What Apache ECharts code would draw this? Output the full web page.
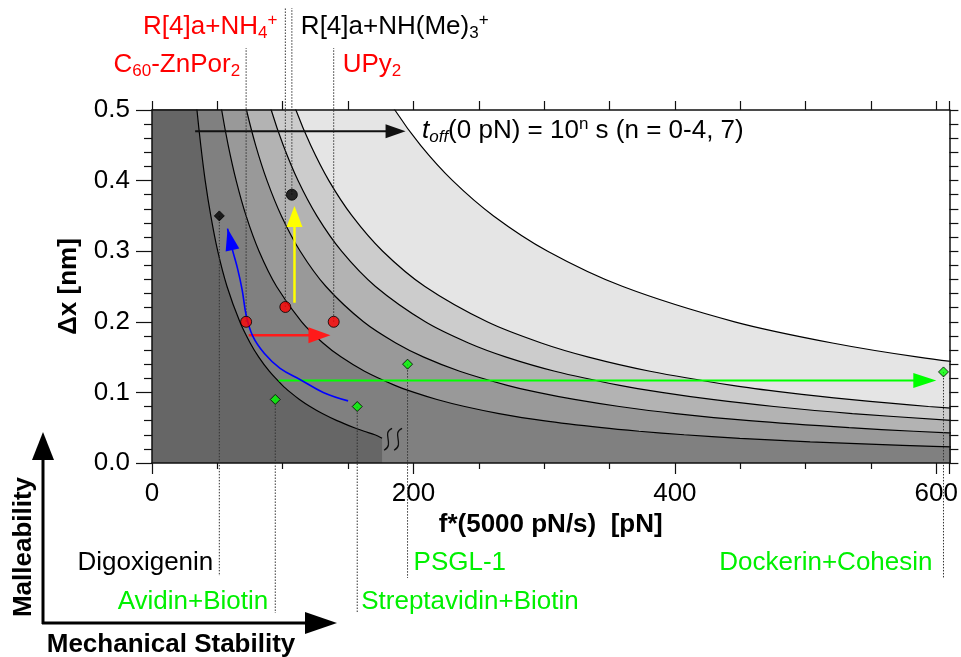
<!DOCTYPE html>
<html>
<head>
<meta charset="utf-8">
<script src="https://cdn.jsdelivr.net/npm/echarts@6/dist/echarts.min.js"></script>
<style>
  html, body { margin: 0; padding: 0; background: #fff; }
  #chart { width: 961px; height: 657px; }
</style>
</head>
<body>
<div id="chart"></div>
<script>
// dx levels (nm) shared by the toff contour curves, force values (pN)
const dxLevels = [0.56, 0.5, 0.45, 0.4, 0.35, 0.3, 0.25, 0.2, 0.17, 0.15, 0.13, 0.11, 0.1, 0.09, 0.08, 0.07, 0.06, 0.05, 0.045, 0.04, 0.035, 0.03, 0.025, 0.022]
const forceN0 = [31.5, 34.4, 37.3, 40.7, 45.0, 50.3, 57.4, 67.2, 75.1, 81.7, 89.7, 99.8, 105.9, 112.8, 120.9, 130.3, 141.5, 154.8, 162.3, 170.5, 176]
const forceN1 = [48.4, 53.3, 58.3, 64.4, 72.0, 81.9, 95.3, 114.5, 130.8, 144.8, 162.6, 185.8, 200.5, 218.0, 239.2, 265.5, 299.2, 344.1, 372.6, 407.1, 449.6, 503.5, 574.1, 628.6]
const forceN2 = [65.3, 72.3, 79.3, 88.0, 99.0, 113.4, 133.1, 161.8, 186.5, 207.9, 235.4, 271.8, 295.1, 323.1, 357.5, 400.6, 456.9, 533.3, 582.9, 643.6]
const forceN3 = [82.2, 91.2, 100.4, 111.7, 126.1, 145.0, 171.0, 209.1, 242.1, 271.0, 308.2, 357.9, 389.8, 428.3, 475.8, 535.8, 614.7]
const forceN4 = [99.1, 110.1, 121.4, 135.3, 153.1, 176.5, 208.8, 256.4, 297.8, 334.0, 381.0, 443.9, 484.4, 533.4, 594.0, 671]
const forceN7 = [166.7, 185.8, 205.5, 230.0, 261.3, 302.7, 360.2, 445.7, 520.5, 586.4, 672]

// binding systems
const binderLabels = [
  'Digoxigenin', 'Avidin+Biotin', 'Streptavidin+Biotin', 'PSGL-1', 'Dockerin+Cohesin',
  '{n|C}{s|60}{n|-ZnPor}{s|2}', '{n|R[4]a+NH}{s|4}{u|+}', '{n|R[4]a+NH(Me)}{s|3}{u|+}', '{n|UPy}{s|2}'
]
const binderForce = [51.5, 94.3, 157, 195.5, 605.5, 72, 102, 107, 139]
const binderDx = [0.35, 0.09, 0.08, 0.14, 0.129, 0.2, 0.221, 0.38, 0.2]

// arrows (data coords), last point is the tip
const arrowBlack = [[33, 0.47], [194, 0.47]]
const arrowYellow = [[109, 0.227], [109, 0.364]]
const arrowRed = [[74, 0.181], [136.5, 0.181]]
const arrowGreen = [[97, 0.117], [600, 0.117]]
const arrowBlue = [[150, 0.088], [131, 0.1], [113.5, 0.118], [98, 0.134], [86, 0.155], [77, 0.18], [72, 0.21], [69, 0.245], [65.5, 0.275], [61.4, 0.303], [57.8, 0.332]]

const FONT = '"Liberation Sans", Arial, sans-serif'
const GREEN = '#00f000'

const binderStyle = [
  { sym: 'diamond', fill: '#000', color: '#000', rowY: 563, lineEnd: 576, align: 'right', gap: 6 },
  { sym: 'diamond', fill: '#00ff00', color: GREEN, rowY: 602, lineEnd: 613, align: 'right', gap: 7 },
  { sym: 'diamond', fill: '#00ff00', color: GREEN, rowY: 602, lineEnd: 613, align: 'left', gap: 4 },
  { sym: 'diamond', fill: '#00ff00', color: GREEN, rowY: 563, lineEnd: 578, align: 'left', gap: 6 },
  { sym: 'diamond', fill: '#00ff00', color: GREEN, rowY: 563, lineEnd: 578, align: 'right', gap: 11 },
  { sym: 'circle', fill: '#ff0000', color: '#ff0000', rowY: 65, lineEnd: 48, align: 'right', gap: 6 },
  { sym: 'circle', fill: '#ff0000', color: '#ff0000', rowY: 27, lineEnd: 8, align: 'right', gap: 8 },
  { sym: 'circle', fill: '#000', color: '#000', rowY: 27, lineEnd: 8, align: 'left', gap: 9 },
  { sym: 'circle', fill: '#ff0000', color: '#ff0000', rowY: 65, lineEnd: 48, align: 'left', gap: 9 }
]

// each curve starts at the upper left corner so the fill covers everything left of it
function curve (forces) {
  return [[0, dxLevels[0]]].concat(forces.map((f, i) => [f, dxLevels[i]]))
}

const levels = [
  { data: forceN7, color: '#e5e5e5' },
  { data: forceN4, color: '#cccccc' },
  { data: forceN3, color: '#b3b3b3' },
  { data: forceN2, color: '#999999' },
  { data: forceN1, color: '#808080' },
  { data: forceN0, color: '#666666' }
]

const axisLine = { show: true, onZero: false, lineStyle: { color: '#111', width: 1.5 } }
const tickStyle = { color: '#111', width: 1.2 }

const chart = echarts.init(document.getElementById('chart'))

const option = {
  animation: false,
  backgroundColor: '#fff',
  grid: { left: 152, right: 11, top: 110, bottom: 194 },
  xAxis: [
    {
      type: 'value', position: 'bottom', min: 0, max: 610, interval: 200, z: 6,
      axisLine: axisLine,
      axisTick: { length: 11, lineStyle: tickStyle },
      minorTick: { show: true, splitNumber: 4, length: 6, lineStyle: tickStyle },
      splitLine: { show: false },
      axisLabel: { fontSize: 26, color: '#000', fontFamily: FONT, margin: 18, showMaxLabel: false },
      name: 'f*(5000 pN/s)  [pN]',
      nameLocation: 'middle',
      nameGap: 44,
      nameTextStyle: { fontSize: 26, fontWeight: 'bold', color: '#000', fontFamily: FONT }
    },
    {
      type: 'value', position: 'top', min: 0, max: 610, interval: 50, z: 6,
      axisLine: axisLine,
      axisTick: { length: 9, lineStyle: tickStyle },
      splitLine: { show: false },
      axisLabel: { show: false }
    }
  ],
  yAxis: [
    {
      type: 'value', min: 0, max: 0.5, interval: 0.1, z: 6,
      axisLine: axisLine,
      axisTick: { length: 16, lineStyle: tickStyle },
      minorTick: { show: true, splitNumber: 5, length: 8, lineStyle: tickStyle },
      splitLine: { show: false },
      axisLabel: { fontSize: 26, color: '#000', fontFamily: FONT, margin: 22, formatter: v => v.toFixed(1) },
      name: 'Δx [nm]',
      nameLocation: 'middle',
      nameGap: 70,
      nameTextStyle: { fontSize: 26, fontWeight: 'bold', color: '#000', fontFamily: FONT }
    },
    {
      type: 'value', position: 'right', min: 0, max: 0.5, interval: 0.02, z: 6,
      axisLine: axisLine,
      axisTick: { length: 9, lineStyle: tickStyle },
      splitLine: { show: false },
      axisLabel: { show: false }
    }
  ],
  series: levels.map(l => ({
    type: 'line',
    data: curve(l.data),
    symbol: 'none',
    smooth: 0.3,
    clip: true,
    silent: true,
    z: 2,
    lineStyle: { color: '#000', width: 1.2 },
    areaStyle: { color: l.color, opacity: 1 }
  })).concat([{
    type: 'scatter',
    z: 15,
    silent: true,
    clip: false,
    data: binderForce.map((f, i) => ({
      value: [f, binderDx[i]],
      symbol: binderStyle[i].sym,
      symbolSize: binderStyle[i].sym === 'circle' ? 11 : 10,
      itemStyle: { color: binderStyle[i].fill, borderColor: '#000', borderWidth: 1 }
    }))
  }])
}

chart.setOption(option)

// annotations placed through the chart's own scales
const P = (x, y) => chart.convertToPixel({ xAxisIndex: 0, yAxisIndex: 0 }, [x, y])

function richFor (color) {
  return {
    n: { fontSize: 26, lineHeight: 30, fontFamily: FONT, fill: color },
    s: { fontSize: 17, lineHeight: 13, verticalAlign: 'bottom', fontFamily: FONT, fill: color },
    u: { fontSize: 17, lineHeight: 14, verticalAlign: 'top', fontFamily: FONT, fill: color }
  }
}

function head (tip, from, len, half, color) {
  const dx = tip[0] - from[0]
  const dy = tip[1] - from[1]
  const d = Math.sqrt(dx * dx + dy * dy)
  const ux = dx / d
  const uy = dy / d
  const bx = tip[0] - ux * len
  const by = tip[1] - uy * len
  return {
    type: 'polygon', z: 12, silent: true,
    shape: { points: [tip, [bx - uy * half, by + ux * half], [bx + uy * half, by - ux * half]] },
    style: { fill: color }
  }
}

function arrow (pts, color, width, len, half, smooth) {
  const px = pts.map(p => P(p[0], p[1]))
  const tip = px[px.length - 1]
  const prev = px[px.length - 2]
  const els = []
  if (smooth) {
    els.push({ type: 'polyline', z: 11, silent: true, shape: { points: px, smooth: 0.4 }, style: { stroke: color, lineWidth: width, fill: null } })
  } else {
    const d = Math.hypot(tip[0] - prev[0], tip[1] - prev[1])
    const end = [tip[0] - (tip[0] - prev[0]) / d * (len - 2), tip[1] - (tip[1] - prev[1]) / d * (len - 2)]
    els.push({ type: 'line', z: 11, silent: true, shape: { x1: px[0][0], y1: px[0][1], x2: end[0], y2: end[1] }, style: { stroke: color, lineWidth: width } })
  }
  els.push(head(tip, prev, len, half, color))
  return els
}

const g = []

binderForce.forEach((f, i) => {
  const p = P(f, binderDx[i])
  const s = binderStyle[i]
  g.push({
    type: 'line', z: 10, silent: true,
    shape: { x1: p[0], y1: p[1], x2: p[0], y2: s.lineEnd },
    style: { stroke: '#333', lineWidth: 1, lineDash: [1.5, 1.5] }
  })
  const label = binderLabels[i].indexOf('{') === 0 ? binderLabels[i] : '{n|' + binderLabels[i] + '}'
  g.push({
    type: 'text', z: 12, silent: true,
    x: s.align === 'right' ? p[0] - s.gap : p[0] + s.gap,
    y: s.rowY,
    style: { text: label, rich: richFor(s.color), align: s.align, verticalAlign: 'middle', fill: s.color, font: '26px ' + FONT }
  })
})

g.push(...arrow(arrowBlack, '#111', 2, 20, 7, false))
g.push(...arrow(arrowYellow, '#ffff00', 2.5, 21, 8, false))
g.push(...arrow(arrowRed, '#ff1a1a', 2.5, 22, 8, false))
g.push(...arrow(arrowGreen, '#00ff00', 2, 23, 7.5, false))
g.push(...arrow(arrowBlue, '#0000ff', 1.6, 22, 7, true))

// break mark after the n = 0 curve
const e = P(forceN0[forceN0.length - 1], dxLevels[forceN0.length - 1])
;[4, 14].forEach(off => {
  const cx = e[0] + off
  const cy = e[1] + 1
  g.push({
    type: 'bezierCurve', z: 11, silent: true,
    shape: { x1: cx + 6, y1: cy - 11, cpx1: cx - 5, cpy1: cy - 6, cpx2: cx + 9, cpy2: cy + 5, x2: cx - 2, y2: cy + 11 },
    style: { stroke: '#111', lineWidth: 1.3, fill: null }
  })
})

// toff legend text
g.push({
  type: 'text', z: 12, silent: true, x: 422, y: 131,
  style: {
    text: '{i|t}{is|off}{n|(0 pN) = 10}{u|n}{n| s (n = 0-4, 7)}',
    verticalAlign: 'middle',
    rich: Object.assign(richFor('#000'), {
      i: { fontSize: 26, lineHeight: 30, fontStyle: 'italic', fontFamily: FONT, fill: '#000' },
      is: { fontSize: 17, lineHeight: 13, verticalAlign: 'bottom', fontStyle: 'italic', fontFamily: FONT, fill: '#000' }
    })
  }
})

// malleability / mechanical stability frame
g.push({ type: 'line', z: 12, silent: true, shape: { x1: 43, y1: 624, x2: 43, y2: 455 }, style: { stroke: '#000', lineWidth: 3 } })
g.push({ type: 'polygon', z: 12, silent: true, shape: { points: [[43, 432], [32, 460], [54, 460]] }, style: { fill: '#000' } })
g.push({ type: 'line', z: 12, silent: true, shape: { x1: 42, y1: 623, x2: 310, y2: 623 }, style: { stroke: '#000', lineWidth: 3 } })
g.push({ type: 'polygon', z: 12, silent: true, shape: { points: [[337, 623], [305, 612], [305, 634]] }, style: { fill: '#000' } })
g.push({
  type: 'text', z: 12, silent: true, x: 24, y: 547, rotation: Math.PI / 2,
  style: { text: 'Malleability', align: 'center', verticalAlign: 'middle', fill: '#000', font: 'bold 26px ' + FONT }
})
g.push({
  type: 'text', z: 12, silent: true, x: 171, y: 645,
  style: { text: 'Mechanical Stability', align: 'center', verticalAlign: 'middle', fill: '#000', font: 'bold 26px ' + FONT }
})

chart.setOption({ graphic: g })
</script>
</body>
</html>
